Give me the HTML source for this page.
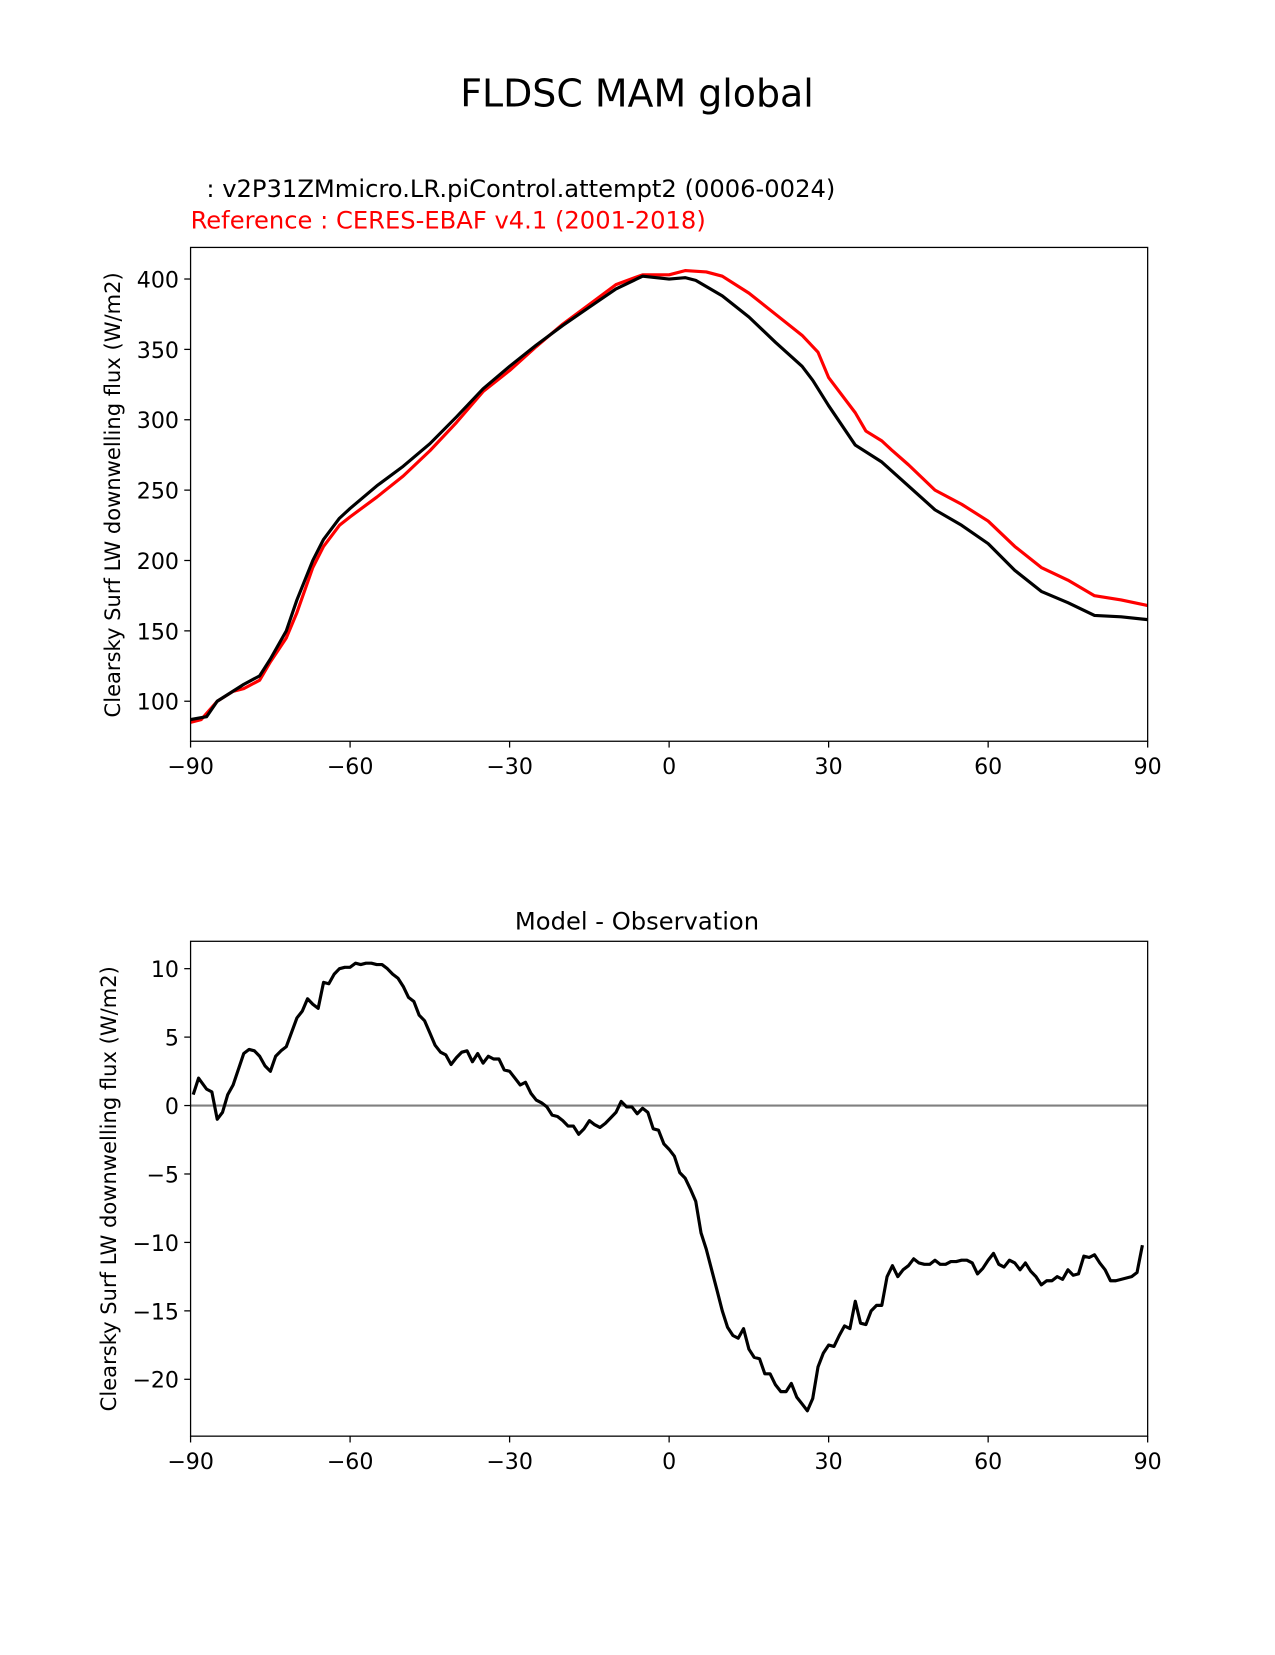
<!DOCTYPE html>
<html><head><meta charset="utf-8"><style>
body{margin:0;background:#fff;}
svg text{font-family:"DejaVu Sans","Liberation Sans",sans-serif;}
</style></head><body>
<svg id="fig" width="1275" height="1650" xmlns="http://www.w3.org/2000/svg">
<rect width="1275" height="1650" fill="#fff"/>
<g transform="scale(1.0529)">
<text x="605" y="101" font-size="36" text-anchor="middle">FLDSC MAM global</text>
<text x="196" y="187" font-size="23">: v2P31ZMmicro.LR.piControl.attempt2 (0006-0024)</text>
<text x="181" y="217" font-size="23" fill="red">Reference : CERES-EBAF v4.1 (2001-2018)</text>
<text x="605" y="883" font-size="23" text-anchor="middle">Model - Observation</text>
<text transform="translate(114,470) rotate(-90)" font-size="20" text-anchor="middle">Clearsky Surf LW downwelling flux (W/m2)</text>
<text transform="translate(110,1129) rotate(-90)" font-size="20" text-anchor="middle">Clearsky Surf LW downwelling flux (W/m2)</text>
<g id="top"></g>
<g id="bot"></g>
</g>
</svg>
<script>
const xTicks=[-90,-60,-30,0,30,60,90];
const topYTicks=[100,150,200,250,300,350,400];
const botYTicks=[10,5,0,-5,-10,-15,-20];
const modelLat=[-90,-87,-85,-80,-77,-75,-72,-70,-67,-65,-62,-60,-55,-50,-45,-40,-35,-30,-25,-20,-15,-10,-5,0,3,5,10,15,20,25,27,30,35,40,45,50,55,60,65,70,75,80,85,90];
const modelVal=[87,89,100,112,118,130,150,172,200,215,230,237,253,267,283,302,322,338,353,367,380,393,402,400,401,399,388,373,355,338,328,310,282,270,253,236,225,212,193,178,170,161,160,158];
const refLat=[-90,-88,-85,-82,-80,-77,-75,-72,-70,-67,-65,-62,-60,-55,-50,-45,-40,-35,-30,-25,-20,-15,-10,-5,0,3,7,10,15,20,25,28,30,35,37,40,42,45,50,55,60,65,70,75,80,85,90];
const refVal=[85,87,100,107,109,115,128,145,163,195,210,225,231,245,260,278,298,320,335,352,368,382,396,403,403,406,405,402,390,375,360,348,330,305,292,285,278,268,250,240,228,210,195,186,175,172,168];
const diffLat=[-89.5,-88.5,-87,-86,-85,-84,-83,-82,-80,-79,-78,-77,-76,-75,-74,-73,-72,-70,-69,-68,-67,-66,-65,-64,-63,-62,-61,-60,-59,-58,-57,-56,-55,-54,-53,-52,-51,-50,-49,-48,-47,-46,-45,-44,-43,-42,-41,-40,-39,-38,-37,-36,-35,-34,-33,-32,-31,-30,-29,-28,-27,-26,-25,-24,-23,-22,-21,-20,-19,-18,-17,-16,-15,-14,-13,-12,-11,-10,-9,-8,-7,-6,-5,-4,-3,-2,-1,0,1,2,3,4,5,6,7,8,9,10,11,12,13,14,15,16,17,18,19,20,21,22,23,24,25,26,27,28,29,30,31,32,33,34,35,36,37,38,39,40,41,42,43,44,45,46,47,48,49,50,51,52,53,54,55,56,57,58,59,60,61,62,63,64,65,66,67,68,69,70,71,72,73,74,75,76,77,78,79,80,81,82,83,84,85,86,87,88,89];
const diffVal=[0.8,2,1.2,1,-1,-0.5,0.8,1.5,3.8,4.1,4,3.6,2.9,2.5,3.6,4,4.3,6.4,6.9,7.8,7.4,7.1,9,8.9,9.6,10,10.1,10.1,10.4,10.3,10.4,10.4,10.3,10.3,10,9.6,9.3,8.7,7.9,7.6,6.6,6.2,5.3,4.4,3.9,3.7,3,3.5,3.9,4,3.2,3.8,3.1,3.6,3.4,3.4,2.6,2.5,2,1.5,1.7,0.9,0.4,0.2,-0.1,-0.7,-0.8,-1.1,-1.5,-1.5,-2.1,-1.7,-1.1,-1.4,-1.6,-1.3,-0.9,-0.5,0.3,-0.1,-0.1,-0.6,-0.2,-0.5,-1.7,-1.8,-2.8,-3.2,-3.7,-4.9,-5.3,-6.1,-7,-9.3,-10.5,-12,-13.5,-15,-16.2,-16.8,-17,-16.3,-17.8,-18.4,-18.5,-19.6,-19.6,-20.4,-20.9,-20.9,-20.3,-21.3,-21.8,-22.3,-21.4,-19.1,-18.1,-17.5,-17.6,-16.8,-16.1,-16.3,-14.3,-15.9,-16,-15,-14.6,-14.6,-12.5,-11.7,-12.5,-12,-11.7,-11.2,-11.5,-11.6,-11.6,-11.3,-11.6,-11.6,-11.4,-11.4,-11.3,-11.3,-11.5,-12.3,-11.9,-11.3,-10.8,-11.6,-11.8,-11.3,-11.5,-12,-11.5,-12.1,-12.5,-13.1,-12.8,-12.8,-12.5,-12.7,-12,-12.4,-12.3,-11,-11.1,-10.9,-11.5,-12,-12.8,-12.8,-12.7,-12.6,-12.5,-12.2,-10.2];
const NS='http://www.w3.org/2000/svg';
const X0=181,X1=1090;
const xs=v=>X0+(v+90)/180*(X1-X0);
const yTop=v=>265+(400-v)*(666-265)/300;
const yBot=v=>1050-v*(1050-920)/10;
function mk(p,t,a){const e=document.createElementNS(NS,t);for(const k in a)e.setAttribute(k,a[k]);p.appendChild(e);return e;}
function axes(g,top,bot,ysc,yt,nm){
  for(const t of xTicks){const x=xs(t);
    const l=mk(g,'line',{x1:x,x2:x,y1:bot,y2:bot+6,stroke:'#000','stroke-width':1.2});
    
    
    const tx=mk(g,'text',{x:x,y:bot+31,'font-size':21,'text-anchor':'middle'});tx.textContent=String(t).replace('-','\u2212');
    
    }
  for(const t of yt){const y=ysc(t);
    const l=mk(g,'line',{x1:X0-6,x2:X0,y1:y,y2:y,stroke:'#000','stroke-width':1.2});
    
    
    const tx=mk(g,'text',{x:X0-11,y:y+8,'font-size':21,'text-anchor':'end'});tx.textContent=String(t).replace('-','\u2212');
    
    }
}
function line(g,la,va,ysc,col,nm){
  const d=la.map((v,i)=>(i?'L':'M')+xs(v).toFixed(1)+','+ysc(va[i]).toFixed(1)).join('');
  const p=mk(g,'path',{d:d,fill:'none',stroke:col,'stroke-width':3,'stroke-linejoin':'round'});
  
  
}
const gt=document.getElementById('top');
axes(gt,235,704,yTop,topYTicks,'top');
line(gt,refLat,refVal,yTop,'red','reference-line');
line(gt,modelLat,modelVal,yTop,'#000','model-line');
const bt=mk(gt,'rect',{x:X0,y:235,width:X1-X0,height:469,fill:'none',stroke:'#000','stroke-width':1.2});


const gb=document.getElementById('bot');
axes(gb,894,1364,yBot,botYTicks,'bottom');
const z=mk(gb,'line',{x1:X0,x2:X1,y1:yBot(0),y2:yBot(0),stroke:'#808080','stroke-width':2});


line(gb,diffLat,diffVal,yBot,'#000','difference-line');
const bb=mk(gb,'rect',{x:X0,y:894,width:X1-X0,height:470,fill:'none',stroke:'#000','stroke-width':1.2});


</script>
</body></html>
